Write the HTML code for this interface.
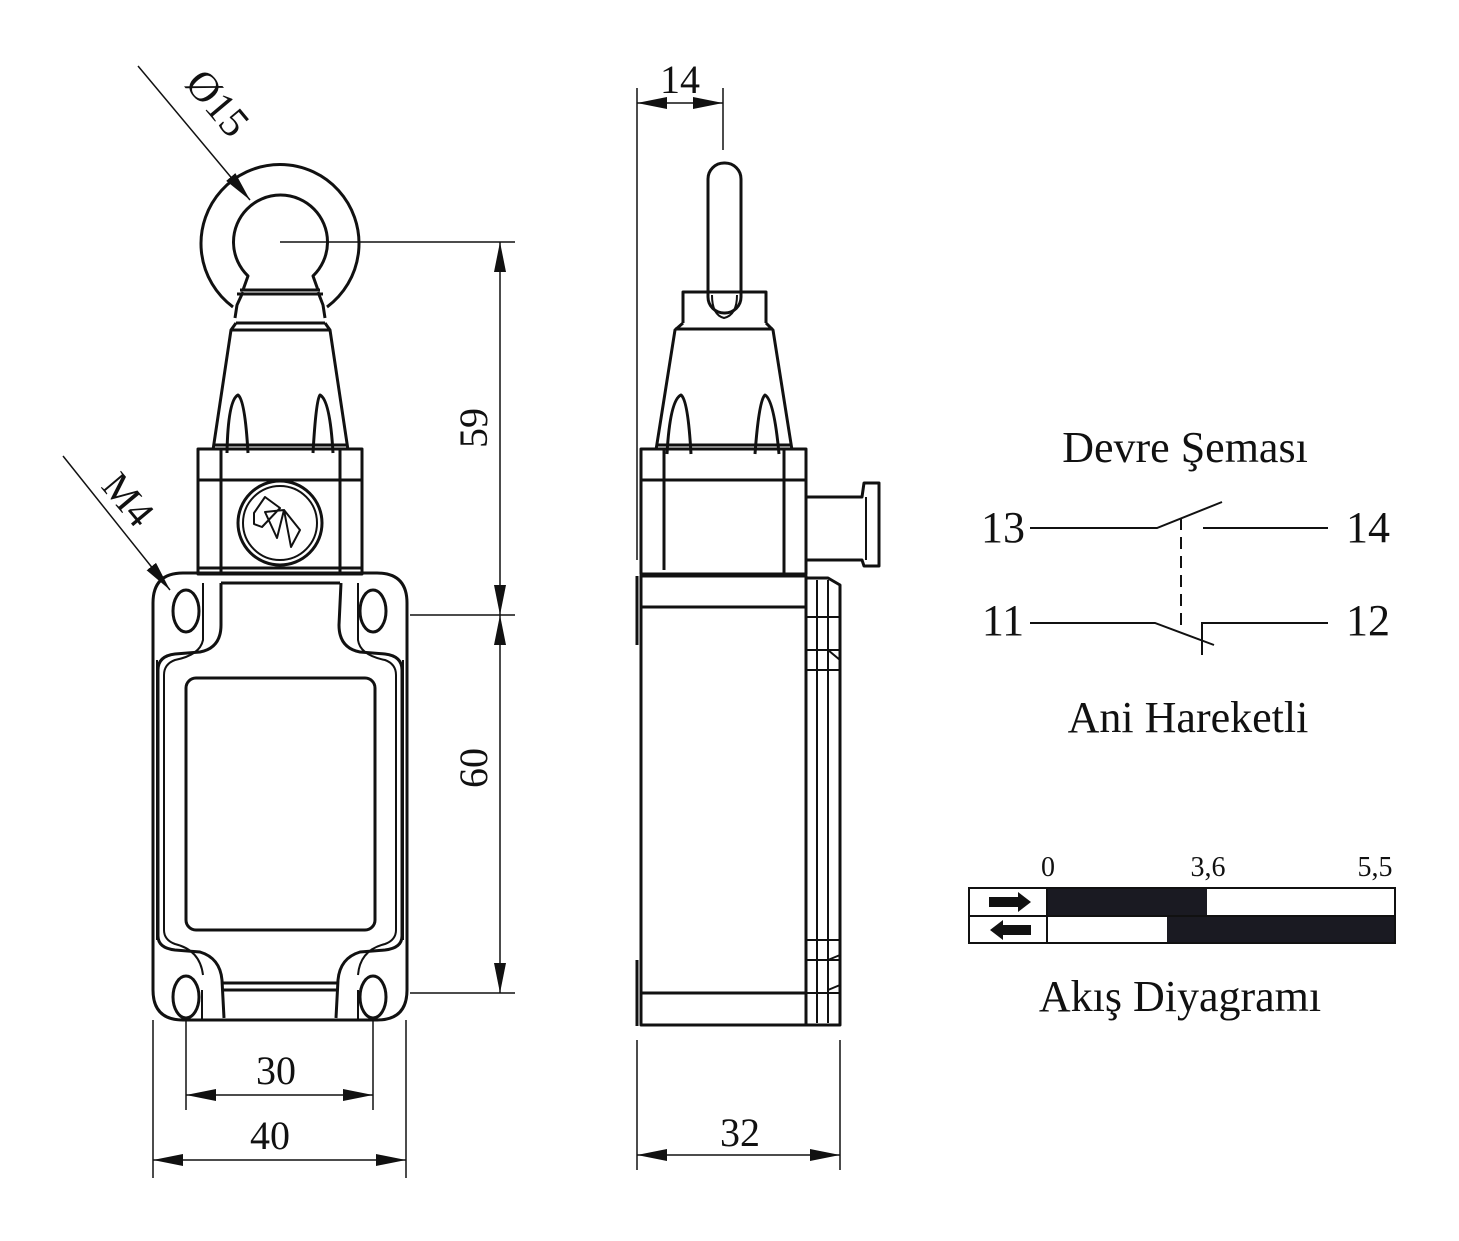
<!DOCTYPE html>
<html><head><meta charset="utf-8"><style>
html,body{margin:0;padding:0;background:#fff}
svg{display:block}
text{font-family:"Liberation Serif",serif;fill:#111}
</style></head><body>
<svg width="1459" height="1241" viewBox="0 0 1459 1241" xmlns="http://www.w3.org/2000/svg">
<defs>
<marker id="b" viewBox="0 0 30 12" refX="30" refY="6" markerWidth="30" markerHeight="12" markerUnits="userSpaceOnUse" orient="auto-start-reverse">
<path d="M0,0 L30,6 L0,12 z" fill="#111"/></marker>
</defs>
<g fill="none" stroke="#111" stroke-width="3" stroke-linejoin="round">
<!-- FRONT VIEW -->
<path d="M233,307 A79,79 0 1 1 327,307"/>
<path d="M243,290 L248,276 A47,47 0 1 1 313,276 L318,290"/>
<path d="M243,292 L237,305 L235,318 M318,292 L323,305 L325,318"/>
<line x1="240" y1="290" x2="320" y2="290"/>
<line x1="237" y1="294" x2="323" y2="294"/>
<line x1="236" y1="323" x2="325" y2="323"/>
<path d="M236,323 L231,330 L213,450 M325,323 L330,330 L348,450"/>
<line x1="231" y1="330" x2="330" y2="330"/>
<path d="M227,453 Q228,400 238,395 Q245,400 248,453"/>
<path d="M313,453 Q316,400 320,395 Q330,400 333,453"/>
<line x1="213" y1="445" x2="348" y2="445"/>
<rect x="198" y="449" width="164" height="125"/>
<line x1="221" y1="449" x2="221" y2="574"/>
<line x1="340" y1="449" x2="340" y2="574"/>
<line x1="198" y1="480" x2="362" y2="480"/>
<line x1="198" y1="568" x2="362" y2="568"/>
<circle cx="280" cy="523" r="42"/>
<circle cx="280" cy="523" r="37" stroke-width="2"/>
<path d="M254,513 L265,497 L280,508 L262,527 L254,524 Z M265,512 L277,538 L284,510 Z M284,510 L300,530 L291,547 Z" stroke-width="2"/>
<!-- body -->
<path d="M183,573 L377,573 Q407,573 407,603 L407,990 Q407,1020 377,1020 L183,1020 Q153,1020 153,990 L153,603 Q153,573 183,573 Z"/>
<path d="M157,660 L157,940 M403,660 L403,940" stroke-width="2"/>
<ellipse cx="186" cy="611" rx="13" ry="21"/>
<ellipse cx="373" cy="611" rx="13" ry="21"/>
<ellipse cx="186" cy="997" rx="13" ry="21"/>
<ellipse cx="373" cy="997" rx="13" ry="21"/>
<path d="M221,583 L221,625 Q221,648 200,652 L175,654 Q158,656 158,670 L158,936 Q158,948 175,950 L200,952 Q220,958 222,980 L224,1018"/>
<path d="M341,583 L339,625 Q339,648 360,652 L385,654 Q402,656 402,670 L402,936 Q402,948 385,950 L360,952 Q340,958 338,980 L336,1018"/>
<path d="M203,583 L203,640 Q200,655 175,660 Q164,664 164,675 L164,930 Q164,940 175,944 Q200,950 203,975" stroke-width="2"/>
<path d="M358,583 L358,640 Q360,655 385,660 Q396,664 396,675 L396,930 Q396,940 385,944 Q360,950 358,975" stroke-width="2"/>
<rect x="186" y="678" width="189" height="252" rx="10"/>
<line x1="221" y1="583" x2="340" y2="583"/>
<line x1="222" y1="983" x2="338" y2="983"/>
<line x1="222" y1="990" x2="338" y2="990"/>
<line x1="202" y1="990" x2="202" y2="1020" stroke-width="2"/>
<line x1="358" y1="990" x2="358" y2="1020" stroke-width="2"/>
<!-- SIDE VIEW -->
<rect x="708" y="163" width="33" height="150" rx="16"/>
<path d="M683,323 L683,292 L766,292 L766,323"/>
<path d="M712,295 Q712,315 724,318 Q737,315 737,295" stroke-width="2"/>
<path d="M683,323 L675,330 L656,450 M766,323 L773,330 L792,450"/>
<line x1="675" y1="329" x2="773" y2="329"/>
<path d="M667,454 Q670,400 681,395 Q688,400 691,454"/>
<path d="M755,454 Q759,400 765,395 Q774,400 779,454"/>
<line x1="656" y1="445" x2="792" y2="445"/>
<rect x="641" y="449" width="165" height="125"/>
<line x1="664" y1="449" x2="664" y2="570"/>
<line x1="784" y1="449" x2="784" y2="574"/>
<line x1="641" y1="480" x2="806" y2="480"/>
<path d="M806,497 L862,497 L864,483 L879,483 L879,566 L864,566 L862,560 L806,560"/>
<line x1="866" y1="497" x2="866" y2="560" stroke-width="2"/>
<path d="M637,576 L637,645 M641,576 L641,1025 L806,1025 L806,576 Z"/>
<path d="M637,960 L637,1026"/>
<line x1="641" y1="607" x2="806" y2="607"/>
<line x1="641" y1="993" x2="806" y2="993"/>
<path d="M806,578 L828,578 L840,585 L840,1025 L806,1025"/>
<line x1="817" y1="580" x2="817" y2="1023" stroke-width="2"/>
<line x1="828" y1="580" x2="828" y2="1023" stroke-width="2"/>
<path d="M806,617 L840,617 M806,650 L840,650 M806,670 L840,670 M806,940 L840,940 M806,960 L840,960 M806,993 L840,993" stroke-width="2"/>
<path d="M828,650 L840,660 M828,960 L840,955 M828,990 L840,985" stroke-width="2"/>
</g>
<!-- dimensions -->
<g stroke="#111" stroke-width="1.5" fill="none">
<line x1="280" y1="242" x2="515" y2="242"/>
<line x1="410" y1="615" x2="515" y2="615"/>
<line x1="410" y1="993" x2="515" y2="993"/>
<line x1="500" y1="242" x2="500" y2="615" marker-start="url(#b)" marker-end="url(#b)"/>
<line x1="500" y1="615" x2="500" y2="993" marker-start="url(#b)" marker-end="url(#b)"/>
<line x1="186" y1="1020" x2="186" y2="1110"/>
<line x1="373" y1="1020" x2="373" y2="1110"/>
<line x1="186" y1="1095" x2="373" y2="1095" marker-start="url(#b)" marker-end="url(#b)"/>
<line x1="153" y1="1020" x2="153" y2="1178"/>
<line x1="406" y1="1020" x2="406" y2="1178"/>
<line x1="153" y1="1160" x2="406" y2="1160" marker-start="url(#b)" marker-end="url(#b)"/>
<line x1="138" y1="66" x2="250" y2="200" marker-end="url(#b)"/>
<line x1="63" y1="456" x2="170" y2="590" marker-end="url(#b)"/>
<line x1="637" y1="88" x2="637" y2="560"/>
<line x1="723" y1="88" x2="723" y2="150"/>
<line x1="637" y1="103" x2="723" y2="103" marker-start="url(#b)" marker-end="url(#b)"/>
<line x1="637" y1="1040" x2="637" y2="1170"/>
<line x1="840" y1="1040" x2="840" y2="1170"/>
<line x1="637" y1="1155" x2="840" y2="1155" marker-start="url(#b)" marker-end="url(#b)"/>
</g>
<g font-size="40">
<text x="478" y="428" transform="rotate(-90 478 428)" text-anchor="middle" dominant-baseline="middle">59</text>
<text x="478" y="768" transform="rotate(-90 478 768)" text-anchor="middle" dominant-baseline="middle">60</text>
<text x="276" y="1084" text-anchor="middle">30</text>
<text x="270" y="1149" text-anchor="middle">40</text>
<text x="680" y="93" text-anchor="middle">14</text>
<text x="740" y="1146" text-anchor="middle">32</text>
<text x="207" y="112" transform="rotate(50 207 112)" text-anchor="middle" font-size="42">Ø15</text>
<text x="118" y="508" transform="rotate(50 118 508)" text-anchor="middle">M4</text>
</g>
<!-- circuit -->
<g font-size="44">
<text x="1185" y="462" text-anchor="middle">Devre Şeması</text>
<text x="1003" y="542" text-anchor="middle">13</text>
<text x="1368" y="542" text-anchor="middle">14</text>
<text x="1003" y="635" text-anchor="middle">11</text>
<text x="1368" y="635" text-anchor="middle">12</text>
<text x="1188" y="732" text-anchor="middle">Ani Hareketli</text>
<text x="1180" y="1011" text-anchor="middle">Akış Diyagramı</text>
</g>
<g stroke="#111" stroke-width="2" fill="none">
<path d="M1030,528 L1157,528 L1222,502"/>
<line x1="1203" y1="528" x2="1328" y2="528"/>
<line x1="1181" y1="518" x2="1181" y2="632" stroke-dasharray="12,7"/>
<path d="M1030,623 L1155,623 L1214,645"/>
<path d="M1202,655 L1202,623 L1328,623"/>
</g>
<g font-size="28">
<text x="1048" y="876" text-anchor="middle">0</text>
<text x="1208" y="876" text-anchor="middle">3,6</text>
<text x="1375" y="876" text-anchor="middle">5,5</text>
</g>
<rect x="1047" y="888" width="160" height="28" fill="#1a1a22"/>
<rect x="1167" y="916" width="228" height="27" fill="#1a1a22"/>
<g stroke="#111" stroke-width="2" fill="none">
<rect x="969" y="888" width="426" height="55"/>
<line x1="969" y1="916" x2="1395" y2="916"/>
<line x1="1047" y1="888" x2="1047" y2="943"/>
</g>
<path d="M989,897 L1018,897 L1018,892 L1031,902 L1018,912 L1018,907 L989,907 Z" fill="#111"/>
<path d="M1031,925 L1003,925 L1003,920 L990,930 L1003,940 L1003,935 L1031,935 Z" fill="#111"/>
</svg>
</body></html>
